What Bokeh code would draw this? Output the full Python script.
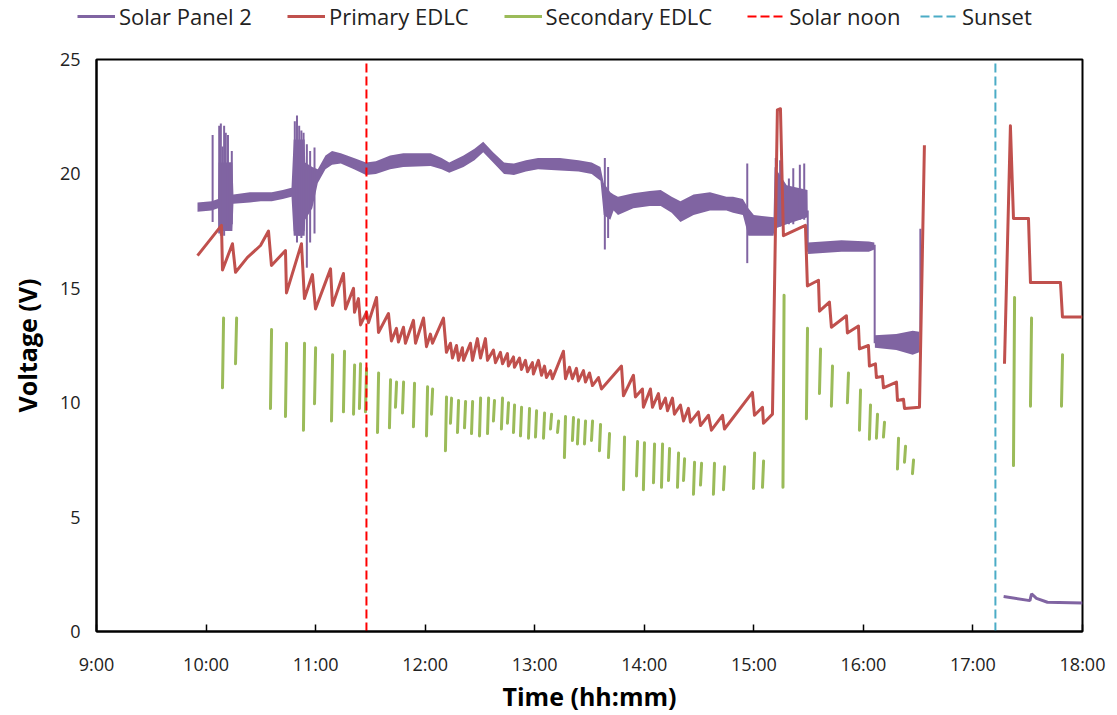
from bokeh.plotting import figure
from bokeh.models import Range1d, FixedTicker, Legend, LegendItem
from bokeh.embed import file_html
from bokeh.resources import INLINE

nan = float("nan")

# ---- data (time in decimal hours, voltage in V) ----
x_ticks = [9, 10, 11, 12, 13, 14, 15, 16, 17, 18]
x_tick_labels = ["9:00", "10:00", "11:00", "12:00", "13:00", "14:00", "15:00", "16:00", "17:00", "18:00"]
y_ticks = [0, 5, 10, 15, 20, 25]

solar_noon = 11.464
sunset = 17.205

# Solar Panel 2: noisy daytime trace as envelope (low / high)
panel_t = [9.922, 10.05, 10.11, 10.115, 10.24, 10.25, 10.40, 10.50, 10.60, 10.70, 10.78,
           10.80, 10.90, 10.905, 10.97, 11.02, 11.09, 11.15, 11.23, 11.35, 11.46, 11.55, 11.68, 11.80,
           12.05, 12.15, 12.22, 12.35, 12.45, 12.53, 12.62, 12.72, 12.81, 12.92, 13.03,
           13.23, 13.40, 13.52, 13.60, 13.63, 13.69, 13.72, 13.76, 13.90, 14.05, 14.15,
           14.25, 14.33, 14.45, 14.60, 14.75, 14.81, 14.90, 14.95, 15.00, 15.18, 15.19,
           15.30, 15.49, 15.495, 15.80, 16.05, 16.10, 16.105, 16.30, 16.45, 16.51]
panel_lo = [18.35, 18.40, 18.50, 17.50, 17.50, 18.70, 18.75, 18.80, 18.80, 18.90, 19.00,
            17.30, 17.30, 18.00, 18.50, 19.60, 20.20, 20.40, 20.45, 20.20, 19.95, 20.00, 20.20, 20.30,
            20.35, 20.20, 20.05, 20.30, 20.60, 20.95, 20.50, 20.00, 19.95, 20.10, 20.20,
            20.15, 20.10, 20.00, 19.70, 18.20, 18.00, 18.40, 18.20, 18.50, 18.60, 18.60,
            18.30, 17.90, 18.20, 18.40, 18.40, 18.30, 18.20, 17.30, 17.30, 17.30, 17.60,
            17.80, 18.10, 16.50, 16.60, 16.60, 16.70, 12.40, 12.30, 12.10, 12.20]
panel_hi = [18.75, 18.80, 18.90, 20.50, 20.50, 19.10, 19.20, 19.20, 19.20, 19.30, 19.40,
            21.50, 21.50, 20.50, 20.30, 20.20, 20.80, 21.00, 20.90, 20.70, 20.50, 20.55, 20.80, 20.90,
            20.90, 20.70, 20.50, 20.80, 21.10, 21.40, 20.95, 20.50, 20.45, 20.60, 20.70,
            20.70, 20.60, 20.50, 20.30, 19.60, 19.20, 19.10, 19.00, 19.15, 19.25, 19.30,
            19.00, 18.80, 19.10, 19.20, 19.00, 19.00, 18.90, 18.50, 18.20, 18.10, 20.30,
            19.50, 19.30, 17.00, 17.10, 17.05, 17.00, 12.95, 13.00, 13.15, 13.10]
# Solar Panel 2: transient spikes and step transitions
panel_spike_t = [10.06, 10.12, 10.135, 10.15, 10.165, 10.18, 10.20, 10.22, 10.235,
                 10.81, 10.83, 10.85, 10.87, 10.89, 10.92, 10.95, 10.99,
                 13.64, 13.67, 14.94,
                 15.20, 15.24, 15.32, 15.36, 15.42, 15.46, 15.492, 16.103, 16.52]
panel_spike_lo = [17.9, 17.4, 17.3, 17.5, 17.3, 17.5, 17.5, 17.6, 17.8,
                  17.5, 17.0, 17.3, 17.2, 17.5, 15.9, 17.0, 17.4,
                  16.7, 17.2, 16.1,
                  17.6, 17.7, 17.8, 17.8, 18.0, 18.0, 16.6, 12.6, 12.2]
panel_spike_hi = [21.7, 22.1, 22.2, 21.2, 22.1, 21.8, 21.7, 20.5, 21.0,
                  22.3, 22.55, 22.1, 21.9, 21.8, 21.3, 21.0, 21.15,
                  20.7, 20.3, 20.45,
                  20.7, 20.6, 19.8, 20.25, 20.4, 20.45, 18.4, 16.9, 17.6]
# Solar Panel 2: after sunset
panel_eve_t = [17.28, 17.52, 17.535, 17.58, 17.68, 18.0]
panel_eve_v = [1.53, 1.35, 1.65, 1.45, 1.28, 1.25]

# Primary EDLC
primary_t = [9.922, 10.141, 10.150, 10.241, 10.269, 10.378, 10.497, 10.570, 10.597, 10.725,
             10.734, 10.871, 10.898, 10.971, 10.999, 11.136, 11.154, 11.254, 11.273, 11.346,
             11.355, 11.391, 11.410, 11.464, 11.483, 11.556, 11.574, 11.665, 11.692, 11.738,
             11.756, 11.802, 11.820, 11.893, 11.912, 11.985, 12.012, 12.048, 12.067, 12.167,
             12.194, 12.231, 12.249, 12.286, 12.304, 12.340, 12.350, 12.413, 12.432, 12.477,
             12.505, 12.550, 12.569, 12.623, 12.642, 12.687, 12.706, 12.751, 12.760, 12.806,
             12.815, 12.861, 12.879, 12.915, 12.934, 12.979, 12.988, 13.034, 13.062, 13.089,
             13.107, 13.144, 13.162, 13.262, 13.281, 13.317, 13.344, 13.381, 13.399, 13.445,
             13.463, 13.500, 13.527, 13.582, 13.609, 13.792, 13.810, 13.901, 13.919, 13.983,
             13.992, 14.056, 14.075, 14.129, 14.148, 14.193, 14.212, 14.257, 14.275, 14.330,
             14.358, 14.403, 14.421, 14.494, 14.513, 14.586, 14.613, 14.714, 14.732, 14.987,
             15.006, 15.079, 15.088, 15.170, 15.215, 15.243, 15.270, 15.471, 15.489, 15.590,
             15.599, 15.690, 15.708, 15.845, 15.854, 15.955, 15.964, 16.046, 16.055, 16.110,
             16.119, 16.174, 16.183, 16.302, 16.311, 16.366, 16.375, 16.512, 16.557,
             nan,
             17.288, 17.342, 17.370, 17.507, 17.525, 17.799, 17.817, 18.0]
primary_v = [16.43, 17.75, 15.80, 16.95, 15.70, 16.35, 16.87, 17.50, 16.00, 16.65,
             14.80, 16.95, 14.55, 15.60, 14.10, 15.85, 14.25, 15.65, 14.10, 15.00,
             13.95, 14.55, 13.40, 13.95, 13.50, 14.60, 13.07, 13.90, 12.70, 13.25,
             12.65, 13.30, 12.60, 13.60, 12.60, 13.70, 12.45, 13.00, 12.60, 13.70,
             12.20, 12.60, 11.95, 12.50, 11.85, 12.40, 11.85, 12.60, 11.85, 12.80,
             11.95, 12.80, 11.85, 12.30, 11.75, 12.20, 11.70, 12.15, 11.60, 12.00,
             11.55, 11.95, 11.45, 11.85, 11.35, 11.75, 11.25, 11.85, 11.20, 11.60,
             11.10, 11.40, 11.05, 12.25, 11.05, 11.55, 11.05, 11.50, 10.95, 11.40,
             10.90, 11.30, 10.75, 11.10, 10.60, 11.60, 10.30, 11.20, 10.25, 10.60,
             9.80, 10.60, 9.80, 10.40, 9.75, 10.20, 9.65, 10.20, 9.50, 9.90,
             9.20, 9.75, 9.15, 9.60, 9.00, 9.45, 8.80, 9.45, 8.85, 10.45,
             9.45, 9.80, 9.10, 9.50, 22.80, 22.85, 17.30, 17.75, 15.10, 15.35,
             14.00, 14.40, 13.30, 13.80, 13.05, 13.35, 12.35, 12.50, 11.60, 11.70,
             11.10, 11.15, 10.65, 10.90, 10.10, 10.15, 9.75, 9.80, 21.25,
             nan,
             11.70, 22.10, 18.05, 18.05, 15.25, 15.25, 13.75, 13.75]

# Secondary EDLC: charging ramps (start value -> end value)
secondary_t = [10.150, 10.269, 10.588, 10.725, 10.889, 10.990, 11.145, 11.254, 11.346, 11.400,
               11.455, 11.565, 11.674, 11.729, 11.793, 11.893, 12.012, 12.058, 12.185, 12.231,
               12.295, 12.359, 12.423, 12.496, 12.569, 12.623, 12.696, 12.751, 12.806, 12.870,
               12.943, 13.007, 13.080, 13.144, 13.208, 13.271, 13.344, 13.390, 13.454, 13.518,
               13.591, 13.673, 13.810, 13.929, 13.992, 14.084, 14.157, 14.221, 14.303, 14.358,
               14.449, 14.513, 14.631, 14.723, 14.997, 15.079, 15.266, 15.480, 15.599, 15.708,
               15.854, 15.964, 16.055, 16.119, 16.183, 16.311, 16.375, 16.448,
               17.370, 17.525, 17.808]
secondary_lo = [10.65, 11.70, 9.75, 9.40, 8.80, 9.95, 9.20, 9.60, 9.50, 9.75,
                9.60, 8.70, 8.90, 9.80, 9.55, 8.95, 8.55, 9.50, 7.90, 9.10,
                8.70, 8.90, 8.65, 8.55, 8.65, 9.20, 8.85, 9.10, 8.70, 8.55,
                8.45, 8.50, 8.45, 8.85, 8.70, 7.60, 8.35, 8.20, 8.20, 8.35,
                7.90, 7.60, 6.20, 6.80, 6.20, 6.50, 6.30, 6.60, 6.30, 6.60,
                6.00, 6.40, 6.00, 6.20, 6.25, 6.30, 6.30, 9.30, 10.40, 9.85,
                10.00, 8.80, 8.40, 8.45, 8.50, 7.10, 7.40, 6.90,
                7.25, 9.85, 9.85]
secondary_hi = [13.70, 13.70, 13.20, 12.60, 12.60, 12.40, 12.10, 12.25, 11.65, 11.70,
                11.50, 11.30, 11.00, 10.90, 10.90, 10.85, 10.70, 10.60, 10.25, 10.20,
                10.10, 10.05, 10.05, 10.20, 10.20, 10.10, 10.20, 10.00, 9.90, 9.80,
                9.75, 9.65, 9.55, 9.50, 9.20, 9.40, 9.35, 9.25, 9.20, 9.20,
                9.05, 8.65, 8.50, 8.30, 8.25, 8.20, 8.20, 8.00, 7.80, 7.55,
                7.40, 7.35, 7.35, 7.20, 7.80, 7.45, 14.70, 13.25, 12.35, 11.60,
                11.30, 10.55, 9.90, 9.50, 9.15, 8.45, 8.10, 7.50,
                14.60, 13.70, 12.10]

series_names = ["Solar Panel 2", "Primary EDLC", "Secondary EDLC", "Solar noon", "Sunset"]

PURPLE = "#8064A2"
RED = "#C0504D"
GREEN = "#9BBB59"
NOON = "#FF0000"
SUNSET = "#4BACC6"
FONT = "Open Sans"

# ---------------- main chart ----------------
p = figure(width=1117, height=668, output_backend="svg", toolbar_location=None,
           x_range=Range1d(9, 18), y_range=Range1d(0, 25),
           min_border_left=96, min_border_right=35, min_border_top=12, min_border_bottom=84)
p.background_fill_color = "white"
p.border_fill_color = "white"
p.grid.visible = False
p.outline_line_color = "black"
p.outline_line_width = 2

# Solar Panel 2
p.varea(x=panel_t, y1=panel_lo, y2=panel_hi, fill_color=PURPLE)
p.segment(x0=panel_spike_t, y0=panel_spike_lo, x1=panel_spike_t, y1=panel_spike_hi,
          line_color=PURPLE, line_width=2)
p.line(panel_eve_t, panel_eve_v, line_color=PURPLE, line_width=3)

# Primary EDLC
p.line(primary_t, primary_v, line_color=RED, line_width=3, line_join="round")

# Secondary EDLC
p.segment(x0=secondary_t, y0=secondary_lo,
          x1=[t + 0.01 for t in secondary_t], y1=secondary_hi,
          line_color=GREEN, line_width=3, line_cap="round")

# markers
p.line([solar_noon, solar_noon], [0, 25], line_color=NOON, line_width=2, line_dash="9 4")
p.line([sunset, sunset], [0, 25], line_color=SUNSET, line_width=2, line_dash="9 4")

# axes
xa = p.xaxis[0]
xa.ticker = FixedTicker(ticks=x_ticks)
xa.major_label_overrides = {t: l for t, l in zip(x_ticks, x_tick_labels)}
xa.minor_tick_line_color = None
xa.major_tick_in = 7
xa.major_tick_out = 0
xa.major_tick_line_color = "black"
xa.major_tick_line_width = 1.5
xa.axis_line_color = "black"
xa.axis_line_width = 2
xa.major_label_standoff = 20
xa.axis_label = "Time (hh:mm)"
xa.axis_label_standoff = 0

ya = p.yaxis[0]
ya.ticker = FixedTicker(ticks=y_ticks)
ya.minor_tick_line_color = None
ya.major_tick_in = 0
ya.major_tick_out = 0
ya.axis_line_color = "black"
ya.axis_line_width = 2
ya.major_label_standoff = 16
ya.axis_label = "Voltage (V)"
ya.axis_label_standoff = 13

for ax in (xa, ya):
    ax.major_label_text_font = FONT
    ax.major_label_text_font_size = "18px"
    ax.major_label_text_color = "#222222"
    ax.axis_label_text_font = FONT
    ax.axis_label_text_font_size = "25px"
    ax.axis_label_text_font_style = "bold"
    ax.axis_label_text_color = "black"

# ---------------- legend strip (separate root above the chart) ----------------
lg = figure(width=1117, height=47, output_backend="svg", toolbar_location=None,
            x_range=Range1d(0, 1), y_range=Range1d(0, 1), min_border=0,
            x_axis_location=None, y_axis_location=None)
lg.grid.visible = False
lg.outline_line_color = None
lg.background_fill_color = "white"
lg.border_fill_color = "white"
# legend keys (kept outside the visible range)
k_panel = lg.line([5, 6], [5, 6], line_color=PURPLE, line_width=3)
k_primary = lg.line([5, 6], [5, 6], line_color=RED, line_width=3)
k_secondary = lg.line([5, 6], [5, 6], line_color=GREEN, line_width=3)
k_noon = lg.line([5, 6], [5, 6], line_color=NOON, line_width=2, line_dash="9 4")
k_sunset = lg.line([5, 6], [5, 6], line_color=SUNSET, line_width=2, line_dash="9 4")


def style(leg):
    leg.orientation = "horizontal"
    leg.label_text_font = FONT
    leg.label_text_font_size = "22px"
    leg.label_text_color = "#222222"
    leg.glyph_width = 38
    leg.glyph_height = 20
    leg.label_standoff = 4
    leg.spacing = 35
    leg.padding = 4
    leg.margin = 0
    leg.border_line_color = None
    leg.background_fill_alpha = 0


leg1 = Legend(items=[
    LegendItem(label=series_names[0], renderers=[k_panel]),
    LegendItem(label=series_names[1], renderers=[k_primary]),
    LegendItem(label=series_names[2], renderers=[k_secondary]),
    LegendItem(label=series_names[3], renderers=[k_noon]),
], location=(77, 16))
leg2 = Legend(items=[LegendItem(label=series_names[4], renderers=[k_sunset])], location=(920, 16))
style(leg1)
style(leg2)
lg.add_layout(leg1, "center")
lg.add_layout(leg2, "center")

open("out.html", "w").write(file_html([lg, p], INLINE))
